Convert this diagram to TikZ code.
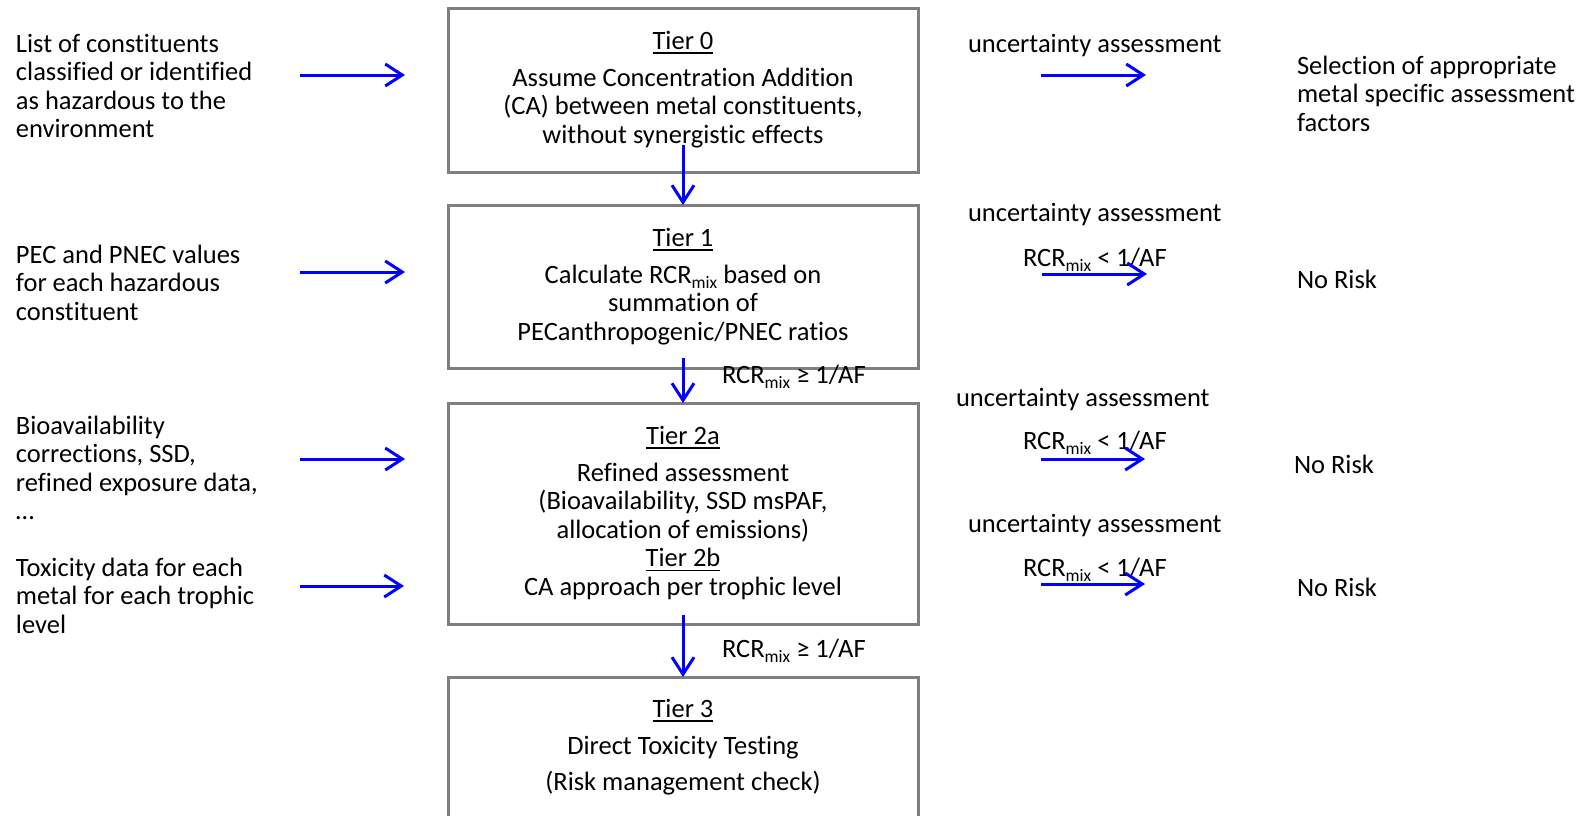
\documentclass[tikz,border=0pt]{standalone}
\usepackage{fontspec}
\setmainfont{Carlito}[Ligatures={NoCommon,NoRare,NoContextual}]
\usetikzlibrary{arrows.meta}
\definecolor{boxgray}{HTML}{7F7F7F}
\definecolor{arrblue}{HTML}{0000FF}
\newcommand\mystrut{\rule{0pt}{24pt}}
\newcommand\tierul[1]{\setbox0\hbox{#1}\rlap{\rule[-4.6pt]{\wd0}{1.6pt}}\box0}
\newcommand\mixsub{\raisebox{-5pt}{\fontsize{17.5}{17.5}\selectfont mix}}
\tikzset{
  tierbox/.style={draw=boxgray, line width=3pt, inner sep=0pt, outer sep=0pt, minimum width=470pt},
  txt/.style={inner sep=0pt, outer sep=0pt, font=\fontsize{26.5}{28.5}\selectfont},
  arr/.style={draw=arrblue, line width=3pt, -{Straight Barb[length=17pt,width=22pt]}}
}
\begin{document}
\begin{tikzpicture}[x=1pt,y=-1pt]
\useasboundingbox (0,0) rectangle (1595,815);
\clip (0,0) rectangle (1595,815);
\fill[white] (0,0) rectangle (1595,815);

% tier boxes
\node[tierbox, minimum height=164pt] (t0) at (683,90) {};
\node[tierbox, minimum height=163pt] (t1) at (683,286.5) {};
\node[tierbox, minimum height=221pt] (t2) at (683,513.5) {};
\node[tierbox, minimum height=163pt] (t3) at (683,758.5) {};

% tier texts
\node[txt, anchor=north, align=center] (t0txt) at (683,25) {\mystrut\tierul{Tier 0}\\[8.5pt]Assume Concentration Addition\\(CA) between metal constituents,\\without synergistic effects};
\node[txt, anchor=north, align=center] (t1txt) at (683,222) {\mystrut\tierul{Tier 1}\\[8.5pt]Calculate RCR\mixsub{} based on\\summation of\\PECanthropogenic/PNEC ratios};
\node[txt, anchor=north, align=center] (t2txt) at (683,420) {\mystrut\tierul{Tier 2a}\\[8.5pt]Refined assessment\\(Bioavailability, SSD msPAF,\\allocation of emissions)\\\tierul{Tier 2b}\\CA approach per trophic level};
\node[txt, anchor=north, align=center] (t3txt) at (683,693) {\mystrut\tierul{Tier 3}\\[8.5pt]Direct Toxicity Testing\\[7.5pt](Risk management check)};

% vertical arrows
\draw[arr] ([yshift=27pt]t0.south) -- (t1.north);
\draw[arr] ([yshift=10pt]t1.south) -- (t2.north);
\draw[arr] ([yshift=9pt]t2.south) -- (t3.north);
\node[txt, anchor=base west] (c1) at (722,383) {RCR\mixsub{} ≥ 1/AF};
\node[txt, anchor=base west] (c2) at (722,657) {RCR\mixsub{} ≥ 1/AF};

% left inputs
\node[txt, anchor=north west, align=left] (in0) at (16,28) {\mystrut List of constituents\\classified or identified\\as hazardous to the\\environment};
\node[txt, anchor=north west, align=left] (in1) at (16,239) {\mystrut PEC and PNEC values\\for each hazardous\\constituent};
\node[txt, anchor=north west, align=left] (in2) at (16,410) {\mystrut Bioavailability\\corrections, SSD,\\refined exposure data,\\…};
\node[txt, anchor=north west, align=left] (in3) at (16,552) {\mystrut Toxicity data for each\\metal for each trophic\\level};

\coordinate (l0s) at (300,75);  \coordinate (l0e) at (405,75);
\coordinate (l1s) at (300,272); \coordinate (l1e) at (405,272);
\coordinate (l2s) at (300,459); \coordinate (l2e) at (405,459);
\coordinate (l3s) at (300,586); \coordinate (l3e) at (404,586);
\draw[arr] (l0s) -- (l0e);
\draw[arr] (l1s) -- (l1e);
\draw[arr] (l2s) -- (l2e);
\draw[arr] (l3s) -- (l3e);

% right side
\node[txt, anchor=base west] (u0) at (968,52) {uncertainty assessment};
\node[txt, anchor=north west, align=left] (o0) at (1297,50) {\mystrut Selection of appropriate\\metal specific assessment\\factors};
\coordinate (r0s) at (1041,75); \coordinate (r0e) at (1146,75);
\draw[arr] (r0s) -- (r0e);

\node[txt, anchor=base west] (u1) at (968,221) {uncertainty assessment};
\node[txt, anchor=base west] (k1) at (1023,266) {RCR\mixsub{} < 1/AF};
\node[txt, anchor=base west] (o1) at (1297,288) {No Risk};
\coordinate (r1s) at (1042,274); \coordinate (r1e) at (1147,274);
\draw[arr] (r1s) -- (r1e);

\node[txt, anchor=base west] (u2) at (956,406) {uncertainty assessment};
\node[txt, anchor=base west] (k2) at (1023,449) {RCR\mixsub{} < 1/AF};
\node[txt, anchor=base west] (o2) at (1294,473) {No Risk};
\coordinate (r2s) at (1041,459); \coordinate (r2e) at (1145,459);
\draw[arr] (r2s) -- (r2e);

\node[txt, anchor=base west] (u3) at (968,532) {uncertainty assessment};
\node[txt, anchor=base west] (k3) at (1023,576) {RCR\mixsub{} < 1/AF};
\node[txt, anchor=base west] (o3) at (1297,596) {No Risk};
\coordinate (r3s) at (1041,584); \coordinate (r3e) at (1145,584);
\draw[arr] (r3s) -- (r3e);
\end{tikzpicture}
\end{document}
